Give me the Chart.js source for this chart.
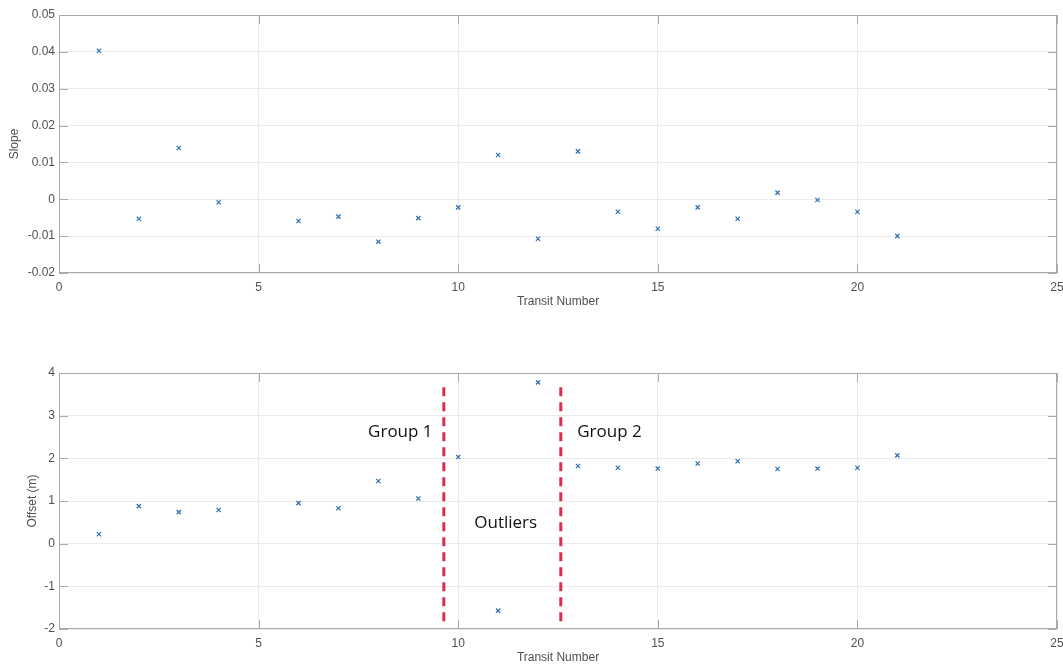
<!DOCTYPE html>
<html>
<head>
<meta charset="utf-8">
<script src="https://cdn.jsdelivr.net/npm/chart.js@4"></script>
<style>
    html, body { margin: 0; padding: 0; background: #fff; }
    #wrap { position: relative; width: 1063px; height: 665px; }
    #slopeBox { position: absolute; left: 0; top: 0; width: 1063px; height: 320px; }
    #offsetBox { position: absolute; left: 0; top: 340px; width: 1063px; height: 325px; }
</style>
</head>
<body>
<div id="wrap">
    <div id="slopeBox"><canvas id="slopeChart" width="1063" height="320"></canvas></div>
    <div id="offsetBox"><canvas id="offsetChart" width="1063" height="325"></canvas></div>
</div>
<script>
// transit numbers (no transit 5)
const transits = [1, 2, 3, 4, 6, 7, 8, 9, 10, 11, 12, 13, 14, 15, 16, 17, 18, 19, 20, 21];
const slopeValues = [0.0403, -0.0053, 0.0139, -0.0008, -0.0059, -0.0047, -0.0115, -0.0051, -0.0022, 0.0120,
    -0.0107, 0.0130, -0.0034, -0.0080, -0.0022, -0.0053, 0.0018, -0.0002, -0.0034, -0.0100];
const offsetValues = [0.22, 0.88, 0.74, 0.79, 0.95, 0.83, 1.47, 1.06, 2.03, -1.57,
    3.78, 1.82, 1.78, 1.76, 1.88, 1.93, 1.75, 1.76, 1.78, 2.07];

// group separators in the offset plot
const dividerX = [9.64, 12.57];
const dividerY = [-1.82, 3.8];

const noteLabels = ['Group 1', 'Outliers', 'Group 2'];
const noteX = [8.55, 11.19, 13.79];
const noteY = [2.62, 0.49, 2.62];

const xTitle = 'Transit Number';

const markerColor = '#2f6fb0';
const gridColor = '#ebebeb';
const boxColor = '#aaaaaa';
const labelColor = '#505050';
const tickFont = { family: "'Liberation Sans', Arial, sans-serif", size: 12 };

function toPoints(xs, ys) {
    return xs.map((x, i) => ({ x: x, y: ys[i] }));
}

// MATLAB style box with inward ticks
const boxPlugin = {
    id: 'boxTicks',
    afterDraw(chart) {
        const ctx = chart.ctx;
        const a = chart.chartArea;
        const xs = chart.scales.x;
        const ys = chart.scales.y;
        ctx.save();
        ctx.strokeStyle = boxColor;
        ctx.lineWidth = 1;
        ctx.strokeRect(a.left + 0.5, a.top + 0.5, a.right - a.left - 1, a.bottom - a.top - 1);
        ctx.beginPath();
        xs.ticks.forEach(t => {
            const px = Math.round(xs.getPixelForValue(t.value)) + 0.5;
            ctx.moveTo(px, a.bottom); ctx.lineTo(px, a.bottom - 9);
            ctx.moveTo(px, a.top); ctx.lineTo(px, a.top + 9);
        });
        ys.ticks.forEach(t => {
            const py = Math.round(ys.getPixelForValue(t.value)) + 0.5;
            ctx.moveTo(a.left, py); ctx.lineTo(a.left + 9, py);
            ctx.moveTo(a.right, py); ctx.lineTo(a.right - 9, py);
        });
        ctx.stroke();
        ctx.restore();
    }
};

const notesPlugin = {
    id: 'notes',
    afterDatasetsDraw(chart) {
        const ctx = chart.ctx;
        ctx.save();
        ctx.fillStyle = '#111111';
        ctx.font = "17px 'Open Sans', 'Noto Sans', sans-serif";
        ctx.textAlign = 'center';
        ctx.textBaseline = 'middle';
        noteLabels.forEach((txt, i) => {
            ctx.fillText(txt, chart.scales.x.getPixelForValue(noteX[i]), chart.scales.y.getPixelForValue(noteY[i]));
        });
        ctx.restore();
    }
};

function buildOptions(cfg) {
    return {
        responsive: false,
        animation: false,
        layout: { padding: { top: cfg.padTop, right: 6, left: 0, bottom: 0 } },
        plugins: { legend: { display: false }, tooltip: { enabled: false } },
        scales: {
            x: {
                type: 'linear',
                min: 0, max: 25,
                afterFit: s => { s.height = cfg.xHeight; s.paddingRight = 6; s.paddingLeft = 0; },
                ticks: { stepSize: 5, color: labelColor, font: tickFont, padding: 7, maxRotation: 0 },
                grid: { color: gridColor, drawTicks: false },
                border: { display: false },
                title: { display: true, text: xTitle, color: labelColor, font: tickFont, padding: { top: 0, bottom: cfg.xTitlePad } }
            },
            y: {
                type: 'linear',
                min: cfg.yMin, max: cfg.yMax,
                afterFit: s => { s.width = 59; },
                ticks: { stepSize: cfg.yStep, color: labelColor, font: tickFont, padding: 4, callback: v => String(+v.toFixed(2)) },
                grid: { color: gridColor, drawTicks: false },
                border: { display: false },
                title: { display: true, text: cfg.yTitle, color: labelColor, font: tickFont, padding: { top: cfg.yTitlePad, bottom: 0 } }
            }
        }
    };
}

function markerSet(values) {
    return {
        data: toPoints(transits, values),
        pointStyle: 'crossRot',
        pointRadius: 3,
        pointBorderWidth: 1.2,
        borderColor: markerColor,
        backgroundColor: markerColor,
        showLine: false
    };
}

new Chart(document.getElementById('slopeChart'), {
    type: 'scatter',
    data: { datasets: [markerSet(slopeValues)] },
    options: buildOptions({ padTop: 15, xHeight: 47, xTitlePad: 11, yMin: -0.02, yMax: 0.05, yStep: 0.01, yTitle: 'Slope', yTitlePad: 7 }),
    plugins: [boxPlugin]
});

const dividerSets = dividerX.map(x => ({
    data: toPoints([x, x], dividerY),
    showLine: true,
    borderColor: '#d8304a',
    borderWidth: 3,
    borderDash: [9, 6],
    pointRadius: 0
}));

new Chart(document.getElementById('offsetChart'), {
    type: 'scatter',
    data: { datasets: [markerSet(offsetValues)].concat(dividerSets) },
    options: buildOptions({ padTop: 33, xHeight: 36, xTitlePad: 0, yMin: -2, yMax: 4, yStep: 1, yTitle: 'Offset (m)', yTitlePad: 25 }),
    plugins: [boxPlugin, notesPlugin]
});
</script>
</body>
</html>
